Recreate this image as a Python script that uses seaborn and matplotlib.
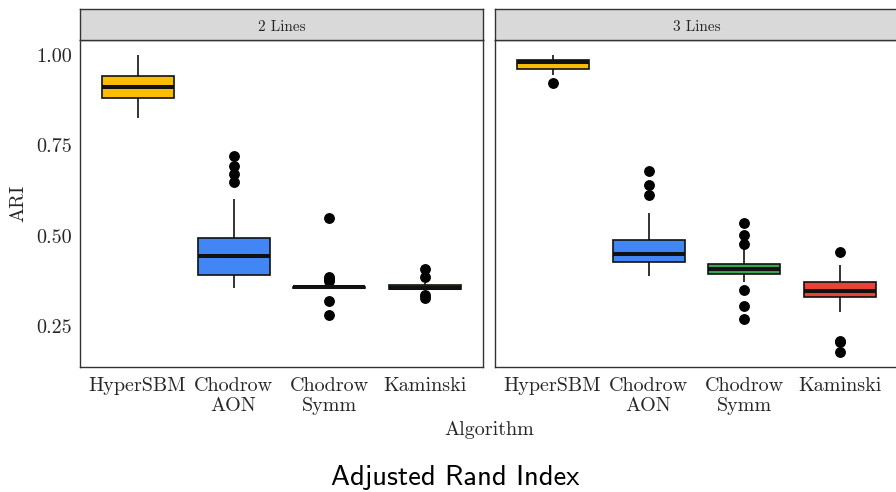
import numpy as np
import pandas as pd
import matplotlib
matplotlib.use("Agg")
import matplotlib.pyplot as plt
import seaborn as sns

# ---------------- data ----------------
algorithms = ["HyperSBM", "Chodrow\nAON", "Chodrow\nSymm", "Kaminski"]
panels = ["2 Lines", "3 Lines"]
colors = ["#FBBC04", "#4285F4", "#34A853", "#EA4335"]
ytick_values = [0.25, 0.50, 0.75, 1.00]
ytick_labels = ["0.25", "0.50", "0.75", "1.00"]

# 2 Lines: whisker low, Q1, median, Q3, whisker high, outliers
two_whisker_low = [0.824, 0.355, 0.356, 0.352]
two_q1 = [0.881, 0.391, 0.356, 0.354]
two_median = [0.911, 0.444, 0.357, 0.356]
two_q3 = [0.942, 0.493, 0.358, 0.364]
two_whisker_high = [1.000, 0.602, 0.358, 0.368]
two_outliers = [[], [0.649, 0.671, 0.693, 0.719],
                [0.282, 0.319, 0.375, 0.380, 0.387, 0.549],
                [0.329, 0.336, 0.386, 0.409]]

# 3 Lines
three_whisker_low = [0.943, 0.389, 0.372, 0.288]
three_q1 = [0.962, 0.427, 0.394, 0.331]
three_median = [0.979, 0.449, 0.407, 0.347]
three_q3 = [0.985, 0.488, 0.422, 0.372]
three_whisker_high = [1.000, 0.564, 0.462, 0.418]
three_outliers = [[0.922], [0.613, 0.640, 0.679],
                  [0.269, 0.306, 0.349, 0.476, 0.502, 0.535],
                  [0.178, 0.205, 0.209, 0.455]]

# build observation tables reproducing those summaries
def build(wl, q1, med, q3, wh, outl, k=10):
    rows = []
    for i, alg in enumerate(algorithms):
        vals = [wl[i]] + [q1[i]] * k + [med[i]] * k + [q3[i]] * k + [wh[i]] + list(outl[i])
        rows += [(alg, v) for v in vals]
    return pd.DataFrame(rows, columns=["Algorithm", "ARI"])

tables = {
    "2 Lines": build(two_whisker_low, two_q1, two_median, two_q3, two_whisker_high, two_outliers),
    "3 Lines": build(three_whisker_low, three_q1, three_median, three_q3, three_whisker_high, three_outliers),
}

# ---------------- plotting ----------------
sns.set_theme(style="white")
plt.rcParams["font.family"] = ["cmr10", "DejaVu Serif"]
plt.rcParams["axes.formatter.use_mathtext"] = True
plt.rcParams["axes.unicode_minus"] = False

W, H = 896, 492
fig = plt.figure(figsize=(W / 100, H / 100), dpi=100)
fig.patch.set_facecolor("white")

txt_col = "#262626"
ax_w = 403 / W
lefts = [80 / W, 495 / W]
bottom = 1 - 367 / H
height = (367 - 40) / H
strip_h = 31 / H

for j, panel in enumerate(panels):
    ax = fig.add_axes([lefts[j], bottom, ax_w, height])
    sns.boxplot(data=tables[panel], x="Algorithm", y="ARI", hue="Algorithm",
                order=algorithms, hue_order=algorithms, palette=colors,
                saturation=1, width=0.75, linewidth=1.2, linecolor="#111111",
                legend=False, ax=ax, showcaps=False,
                flierprops=dict(marker="o", markersize=6.8, markerfacecolor="black",
                                markeredgecolor="black"),
                medianprops=dict(color="#111111", linewidth=2.9),
                whiskerprops=dict(color="#111111", linewidth=1.2))
    ax.set_xlim(-0.6, 3.6)
    ax.set_ylim(0.137, 1.041)
    ax.set_facecolor("white")
    for s in ax.spines.values():
        s.set_visible(True)
        s.set_color("#333333")
        s.set_linewidth(1.0)
    ax.tick_params(axis="both", which="both", direction="out", length=3.5,
                   width=0.8, color="#555555", labelsize=14.5, labelcolor=txt_col)
    ax.tick_params(axis="x", pad=4)
    ax.tick_params(axis="y", pad=2)
    ax.set_xticks(range(len(algorithms)))
    ax.set_xticklabels(algorithms, linespacing=1.1)
    ax.set_yticks(ytick_values)
    if j == 0:
        ax.set_yticklabels(ytick_labels)
    else:
        ax.set_yticklabels([])
    ax.set_xlabel("")
    ax.set_ylabel("")

    # facet strip
    st = fig.add_axes([lefts[j], 1 - 40 / H, ax_w, strip_h])
    st.set_facecolor("#D9D9D9")
    st.set_xticks([]); st.set_yticks([])
    for s in st.spines.values():
        s.set_color("#333333")
        s.set_linewidth(1.0)
    st.text(0.5, 0.40, panel, ha="center", va="center", fontsize=11,
            color=txt_col, transform=st.transAxes)

fig.text(18 / W, 1 - 203 / H, "ARI", rotation=90, ha="center", va="center",
         fontsize=14.5, color=txt_col)
fig.text(489 / W, 1 - 430 / H, "Algorithm", ha="center", va="center",
         fontsize=14.5, color=txt_col)
fig.text(455 / W, 1 - 478 / H, "Adjusted Rand Index", ha="center", va="center",
         fontsize=20.5, color="black", family=["cmss10", "DejaVu Sans"])

fig.savefig("out.png", dpi=100, facecolor="white")
